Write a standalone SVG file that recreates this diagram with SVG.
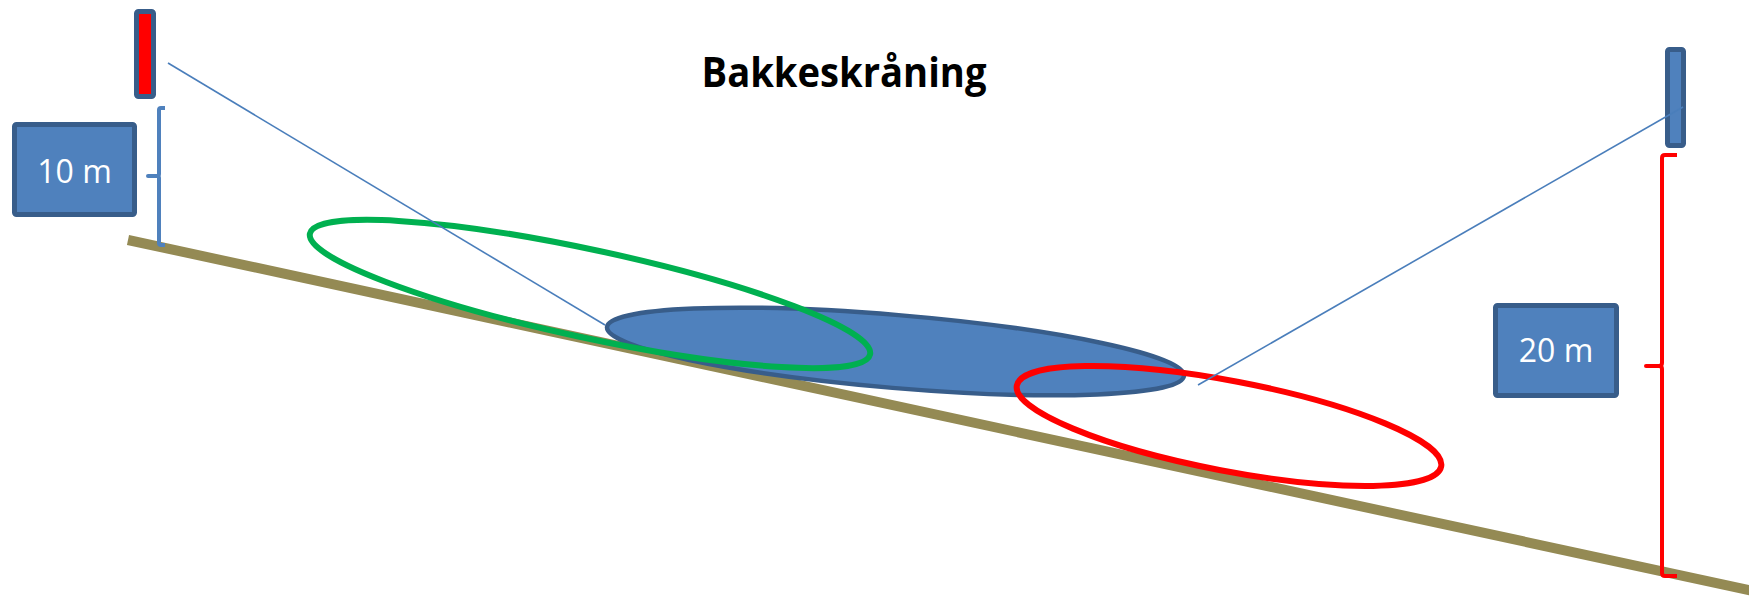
<svg xmlns="http://www.w3.org/2000/svg" width="1749" height="596" viewBox="0 0 1749 596">
  <style>
    .box { fill: #4F81BD; stroke: #385D8A; stroke-width: 5; stroke-linejoin: round; }
    .lbl { font-family: "Open Sans", "Liberation Sans", sans-serif; font-size: 32px; fill: #FFFFFF; text-anchor: middle; }
    .title { font-family: "Open Sans", "Liberation Sans", sans-serif; font-size: 41px; font-weight: bold; fill: #000000; text-anchor: middle; }
    .ring { fill: none; stroke-width: 6; }
    .ray { fill: none; stroke: #4A7EBB; stroke-width: 1.6; }
    .brace { fill: none; stroke-width: 4; stroke-linecap: butt; stroke-linejoin: round; }
  </style>
  <rect width="1749" height="596" fill="#FFFFFF"/>

  <g id="slope">
    <line x1="128" y1="240" x2="1765" y2="593.6" stroke="#948A54" stroke-width="10"/>
  </g>

  <g id="title">
    <text class="title" x="844" y="87" textLength="285" lengthAdjust="spacingAndGlyphs">Bakkeskråning</text>
  </g>

  <g id="zone-blue">
    <ellipse cx="895.5" cy="351.5" rx="289.5" ry="36.5" transform="rotate(4.82 895.5 351.5)" fill="#4F81BD" stroke="#385D8A" stroke-width="4.5"/>
  </g>
  <g id="zone-green">
    <ellipse class="ring" cx="590" cy="294" rx="286.5" ry="44" transform="rotate(12.16 590 294)" stroke="#00B050"/>
  </g>
  <g id="zone-red">
    <ellipse class="ring" cx="1229" cy="426" rx="216" ry="45" transform="rotate(10.8 1229 426)" stroke="#FF0000"/>
  </g>

  <g id="sensor-left">
    <rect x="136.5" y="11.5" width="17" height="85" rx="2" fill="#FF0000" stroke="#385D8A" stroke-width="5" stroke-linejoin="round"/>
  </g>
  <g id="sensor-right">
    <rect class="box" x="1667.5" y="49.5" width="16" height="96" rx="2"/>
  </g>

  <g id="label-10m">
    <rect class="box" x="14.5" y="124.5" width="120" height="90" rx="2"/>
    <text class="lbl" x="74.5" y="183">10 m</text>
  </g>
  <g id="label-20m">
    <rect class="box" x="1495.5" y="305.5" width="121" height="90" rx="2"/>
    <text class="lbl" x="1556" y="362">20 m</text>
  </g>

  <g id="brace-left">
    <path class="brace" stroke="#4F81BD" d="M165,108 L161,108 Q159,108 159,110 L159,174 Q159,176 157,176 L148,176 L157,176 Q159,176 159,178 L159,243 Q159,245 161,245 L165,245"/>
  </g>
  <g id="brace-right">
    <path class="brace" stroke="#FF0000" d="M1677,155 L1665,155 Q1662,155 1662,158 L1662,363 Q1662,366 1659,366 L1646,366 L1659,366 Q1662,366 1662,369 L1662,573 Q1662,576 1665,576 L1677,576"/>
  </g>

  <g id="connectors">
    <line class="ray" x1="168" y1="63" x2="605" y2="325"/>
    <line class="ray" x1="1683" y1="107" x2="1198" y2="385"/>
  </g>
</svg>
